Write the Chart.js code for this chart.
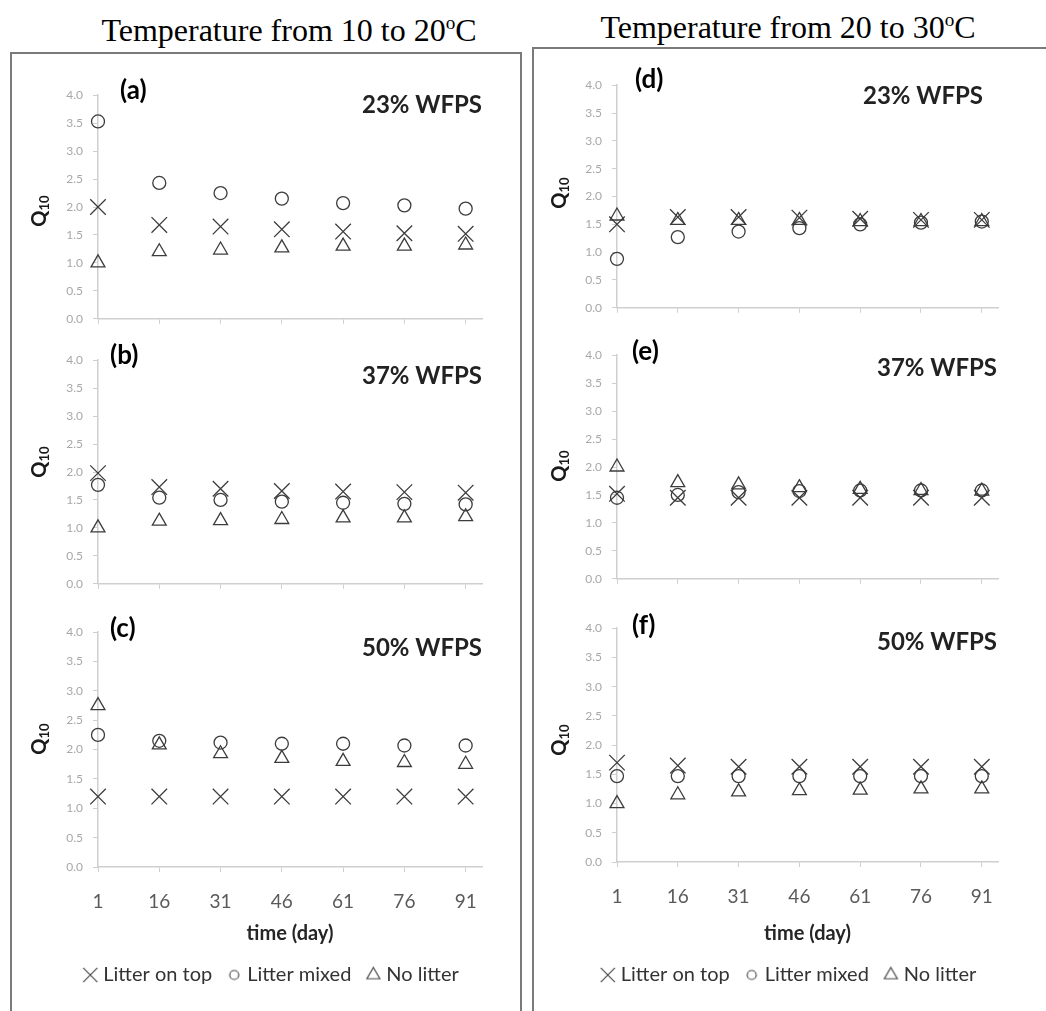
<!DOCTYPE html>
<html>
<head>
<meta charset="utf-8">
<script src="https://cdn.jsdelivr.net/npm/chart.js@4.4.0/dist/chart.umd.min.js"></script>
<style>
  body { margin: 0; width: 1046px; height: 1011px; background: #fff; position: relative; overflow: hidden; font-family: Lato, "Open Sans", sans-serif; }
  .box { position: absolute; border: 2px solid #7a7a7a; }
  .head { position: absolute; font-family: "Liberation Serif", "Times New Roman", serif; font-size: 32px; line-height: 34px; color: #000; white-space: nowrap; transform: translateX(-50%); }
  .head sup { font-size: 60%; vertical-align: 0.6em; line-height: 0; }
  .tag { position: absolute; font-weight: bold; font-size: 26px; line-height: 26px; color: #000; }
  .wfps { position: absolute; font-weight: bold; font-size: 24px; line-height: 24px; color: #222; white-space: nowrap; }
  .qt { position: absolute; width: 60px; height: 24px; margin: -12px 0 0 -30px; text-align: center; transform: rotate(-90deg);
        font-weight: bold; font-size: 20px; line-height: 24px; color: #1a1a1a; white-space: nowrap; }
  .qt sub { font-size: 13px; vertical-align: -0.25em; line-height: 0; }
  canvas { position: absolute; }
</style>
</head>
<body>
<div class="box" style="left:10px; top:52px; width:508px; height:980px;"></div>
<div class="box" style="left:532px; top:47px; width:540px; height:990px;"></div>

<div class="head" style="left:289px; top:13px;">Temperature from 10 to 20<sup>o</sup>C</div>
<div class="head" style="left:788px; top:10px;">Temperature from 20 to 30<sup>o</sup>C</div>

<canvas id="pa" width="510" height="258" style="left:20px; top:78px;"></canvas>
<canvas id="pb" width="510" height="258" style="left:20px; top:343px;"></canvas>
<canvas id="pc" width="510" height="380" style="left:20px; top:615px;"></canvas>
<canvas id="pd" width="478" height="257" style="left:540px; top:68px;"></canvas>
<canvas id="pe" width="478" height="258" style="left:540px; top:338px;"></canvas>
<canvas id="pf" width="478" height="384" style="left:540px; top:611px;"></canvas>

<div class="qt" style="left:38px; top:211px;">Q<sub>10</sub></div>
<div class="qt" style="left:38px; top:462px;">Q<sub>10</sub></div>
<div class="qt" style="left:38px; top:739px;">Q<sub>10</sub></div>
<div class="qt" style="left:558px; top:193px;">Q<sub>10</sub></div>
<div class="qt" style="left:558px; top:466px;">Q<sub>10</sub></div>
<div class="qt" style="left:558px; top:740px;">Q<sub>10</sub></div>

<div class="tag" style="left:120px; top:76px;">(a)</div>
<div class="tag" style="left:110px; top:341px;">(b)</div>
<div class="tag" style="left:110px; top:614px;">(c)</div>
<div class="tag" style="left:635px; top:65px;">(d)</div>
<div class="tag" style="left:632px; top:337px;">(e)</div>
<div class="tag" style="left:632px; top:611px;">(f)</div>

<div class="wfps" style="right:564px; top:92px;">23% WFPS</div>
<div class="wfps" style="right:564px; top:363px;">37% WFPS</div>
<div class="wfps" style="right:564px; top:635px;">50% WFPS</div>
<div class="wfps" style="right:63px; top:83px;">23% WFPS</div>
<div class="wfps" style="right:49px; top:355px;">37% WFPS</div>
<div class="wfps" style="right:49px; top:629px;">50% WFPS</div>

<script>
// sampling days
var days = [1, 16, 31, 46, 61, 76, 91];

// 10-20 C, 23% WFPS
var aTop   = [2.0, 1.68, 1.65, 1.6, 1.56, 1.53, 1.52];
var aMixed = [3.53, 2.43, 2.25, 2.15, 2.07, 2.03, 1.97];
var aNone  = [1.0, 1.2, 1.23, 1.27, 1.3, 1.3, 1.32];
// 10-20 C, 37% WFPS
var bTop   = [1.98, 1.73, 1.7, 1.66, 1.65, 1.64, 1.63];
var bMixed = [1.77, 1.54, 1.5, 1.47, 1.45, 1.43, 1.42];
var bNone  = [1.0, 1.12, 1.13, 1.15, 1.18, 1.18, 1.2];
// 10-20 C, 50% WFPS
var cTop   = [1.2, 1.2, 1.2, 1.2, 1.2, 1.2, 1.2];
var cMixed = [2.25, 2.15, 2.12, 2.1, 2.1, 2.07, 2.07];
var cNone  = [2.75, 2.08, 1.93, 1.85, 1.8, 1.78, 1.75];
// 20-30 C, 23% WFPS
var dTop   = [1.5, 1.63, 1.63, 1.62, 1.6, 1.58, 1.58];
var dMixed = [0.88, 1.27, 1.37, 1.43, 1.5, 1.53, 1.55];
var dNone  = [1.65, 1.57, 1.57, 1.57, 1.55, 1.55, 1.55];
// 20-30 C, 37% WFPS
var eTop   = [1.52, 1.45, 1.45, 1.45, 1.45, 1.45, 1.45];
var eMixed = [1.45, 1.5, 1.55, 1.57, 1.58, 1.58, 1.58];
var eNone  = [2.0, 1.72, 1.68, 1.63, 1.6, 1.58, 1.57];
// 20-30 C, 50% WFPS
var fTop   = [1.7, 1.65, 1.63, 1.63, 1.63, 1.63, 1.63];
var fMixed = [1.47, 1.47, 1.47, 1.47, 1.47, 1.47, 1.47];
var fNone  = [1.0, 1.15, 1.2, 1.22, 1.23, 1.25, 1.25];

var seriesNames = ['Litter on top', 'Litter mixed', 'No litter'];
var yTicks = [0, 0.5, 1, 1.5, 2, 2.5, 3, 3.5, 4];

var ink = '#3c3c3c';
var axisGrey = '#cfcfcf';

function pts(vals) {
    return days.map(function (d, i) { return { x: d, y: vals[i] }; });
}

// small legend symbols, each with its own size
function legendSymbol(style, radius) {
    var c = document.createElement('canvas');
    var s = Math.ceil(radius * 2 + 4);
    c.width = s;
    c.height = s;
    var g = c.getContext('2d');
    g.strokeStyle = '#4a4a4a';
    g.fillStyle = 'rgba(0,0,0,0)';
    g.lineWidth = 1.2;
    Chart.helpers.drawPoint(g, { pointStyle: style, radius: radius, borderWidth: 1.2 }, s / 2, s / 2);
    return c;
}
var legendMarks = [legendSymbol('crossRot', 10), legendSymbol('circle', 4.5), legendSymbol('triangle', 7.5)];

function makePanel(id, top, mixed, none, o) {
    new Chart(id, {
        type: 'scatter',
        data: {
            datasets: [{
                label: seriesNames[0],
                data: pts(top),
                pointStyle: 'crossRot',
                pointRadius: 11,
                borderColor: ink,
                backgroundColor: 'rgba(0,0,0,0)',
                borderWidth: 1.3,
                clip: false
            }, {
                label: seriesNames[1],
                data: pts(mixed),
                pointStyle: 'circle',
                pointRadius: 6.5,
                borderColor: ink,
                backgroundColor: 'rgba(0,0,0,0)',
                borderWidth: 1.3,
                clip: false
            }, {
                label: seriesNames[2],
                data: pts(none),
                pointStyle: 'triangle',
                pointRadius: 8,
                borderColor: ink,
                backgroundColor: 'rgba(0,0,0,0)',
                borderWidth: 1.3,
                clip: false
            }]
        },
        options: {
            responsive: false,
            animation: false,
            events: [],
            layout: { autoPadding: false, padding: { top: o.padTop, right: o.padRight, left: o.padLeft, bottom: 0 } },
            plugins: {
                tooltip: { enabled: false },
                legend: {
                    display: o.bottom,
                    position: 'bottom',
                    labels: {
                        usePointStyle: true,
                        boxWidth: 6,
                        boxHeight: 10,
                        padding: 19,
                        color: '#333',
                        font: { family: 'Lato', size: 20 },
                        generateLabels: function (chart) {
                            var items = Chart.defaults.plugins.legend.labels.generateLabels(chart);
                            items.forEach(function (it, i) { it.pointStyle = legendMarks[i]; });
                            return items;
                        }
                    }
                }
            },
            scales: {
                x: {
                    type: 'linear',
                    min: 1,
                    max: 95,
                    afterBuildTicks: function (s) {
                        s.ticks = days.map(function (v) { return { value: v }; });
                    },
                    afterFit: function (s) { s.height = o.bottom ? o.xHeight : 6; },
                    grid: { drawOnChartArea: false, tickLength: 5, color: axisGrey },
                    border: { color: axisGrey, width: 1.5 },
                    ticks: {
                        display: o.bottom,
                        autoSkip: false,
                        maxRotation: 0,
                        padding: 18,
                        color: '#5a5a5a',
                        font: { family: 'Lato', size: 19 }
                    },
                    title: {
                        display: o.bottom,
                        text: 'time (day)',
                        color: '#262626',
                        font: { family: 'Lato', size: 20, weight: 'bold' },
                        padding: { top: 4, bottom: 0 }
                    }
                },
                y: {
                    min: 0,
                    max: 4,
                    afterBuildTicks: function (s) {
                        s.ticks = yTicks.map(function (v) { return { value: v }; });
                    },
                    afterFit: function (s) { s.width = o.yWidth; },
                    grid: { drawOnChartArea: false, tickLength: 5, color: axisGrey },
                    border: { color: axisGrey, width: 1.5 },
                    ticks: {
                        padding: 10,
                        color: '#a8a8a8',
                        font: { family: 'Lato', size: 12 },
                        callback: function (v) { return v.toFixed(1); }
                    }
                }
            }
        }
    });
}

var leftCol = { padTop: 12, padLeft: 44, padRight: 48, yWidth: 34 };
var rightCol = { padTop: 12, padLeft: 43, padRight: 20, yWidth: 34 };

makePanel('pa', aTop, aMixed, aNone, Object.assign({ bottom: false }, leftCol));
makePanel('pb', bTop, bMixed, bNone, Object.assign({ bottom: false }, leftCol));
makePanel('pc', cTop, cMixed, cNone, Object.assign({ bottom: true, xHeight: 79 }, leftCol));
makePanel('pd', dTop, dMixed, dNone, Object.assign({ bottom: false }, rightCol));
makePanel('pe', eTop, eMixed, eNone, Object.assign({ bottom: false }, rightCol));
makePanel('pf', fTop, fMixed, fNone, Object.assign({ bottom: true, xHeight: 84 }, rightCol));
</script>
</body>
</html>
